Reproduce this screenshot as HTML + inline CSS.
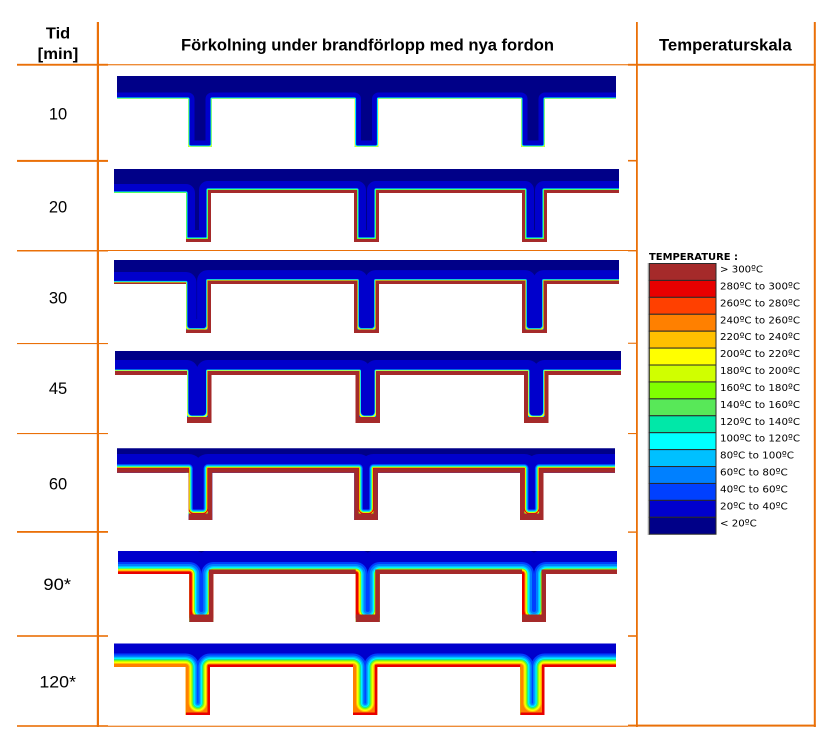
<!DOCTYPE html>
<html><head><meta charset="utf-8">
<style>
html,body{margin:0;padding:0;background:#fff;width:840px;height:752px;overflow:hidden}
svg{display:block}
text{font-family:"Liberation Sans",Arial,sans-serif;fill:#000}
.lg{font-family:"DejaVu Sans","Liberation Sans",sans-serif;font-size:10px}
</style></head>
<body>
<svg width="840" height="752" viewBox="0 0 840 752" xmlns="http://www.w3.org/2000/svg">
<defs>
<clipPath id="c1"><path d="M117,76H616V99H545V147H521V99H378.5V147H354.5V99H212V147H188V99H117Z"/></clipPath>
<clipPath id="c2"><path d="M114,169H619V193H547V242H522V193H379V242H354V193H211V242H186V193H114Z"/></clipPath>
<clipPath id="c3"><path d="M114,260H619V284H547V333H522V284H379V333H354V284H211V333H186V284H114Z"/></clipPath>
<clipPath id="c4"><path d="M115,351H621V375H548.5V423H524V375H380V423H355.5V375H211.5V423H187V375H115Z"/></clipPath>
<clipPath id="c5"><path d="M117,448.3H615V472.7H543.5V520H520V472.7H377.8V520H354.3V472.7H212.2V520H188.7V472.7H117Z"/></clipPath>
<clipPath id="c6"><path d="M118,551H617V574H546V622H522V574H379.7V622H355.7V574H213.3V622H189.3V574H118Z"/></clipPath>
<clipPath id="c7"><path d="M114,643.5H616V667H544.5V715H520.3V667H377.3V715H353V667H210V715H185.7V667H114Z"/></clipPath>
</defs>

<!-- Orange grid -->
<g fill="#ea7008">
<rect x="96.8" y="22" width="2.2" height="705"/>
<rect x="636" y="22" width="1.8" height="705"/>
<rect x="813.8" y="22" width="2" height="705"/>
<rect x="17" y="63.8" width="91" height="1.9"/>
<rect x="108" y="64.2" width="520" height="1.1"/>
<rect x="628" y="63.8" width="187.8" height="1.9"/>
<rect x="17" y="159.9" width="91" height="2"/>
<rect x="628" y="159.9" width="9" height="1.6"/>
<rect x="17" y="250" width="91" height="1.5"/>
<rect x="108" y="250" width="520" height="1"/>
<rect x="628" y="250" width="9" height="1.4"/>
<rect x="17" y="343" width="91" height="1.1"/>
<rect x="628" y="342.7" width="9" height="1.1"/>
<rect x="17" y="433" width="91" height="1.1"/>
<rect x="628" y="433" width="9" height="1.1"/>
<rect x="17" y="531" width="91" height="1.8"/>
<rect x="628" y="531.4" width="9" height="1.4"/>
<rect x="17" y="635.2" width="91" height="1.6"/>
<rect x="628" y="635.2" width="9" height="1.6"/>
<rect x="17" y="725.2" width="91" height="1.6"/>
<rect x="108" y="725.7" width="520" height="1.1"/>
<rect x="628" y="724.6" width="187.8" height="2"/>
</g>

<!-- Header text -->
<text x="58" y="38.3" text-anchor="middle" font-weight="bold" font-size="16" textLength="24.3" lengthAdjust="spacingAndGlyphs">Tid</text>
<text x="58" y="59" text-anchor="middle" font-weight="bold" font-size="16" textLength="40.6" lengthAdjust="spacingAndGlyphs">[min]</text>
<text x="367.5" y="50.5" text-anchor="middle" font-weight="bold" font-size="17" textLength="373" lengthAdjust="spacingAndGlyphs">Förkolning under brandförlopp med nya fordon</text>
<text x="725.3" y="50.5" text-anchor="middle" font-weight="bold" font-size="17" textLength="132.7" lengthAdjust="spacingAndGlyphs">Temperaturskala</text>

<!-- Row labels -->
<g font-size="16.5" text-anchor="middle">
<text x="58" y="119.3">10</text>
<text x="58" y="212.3">20</text>
<text x="58" y="303.3">30</text>
<text x="58" y="394">45</text>
<text x="58" y="489.3">60</text>
<text x="57.2" y="590" textLength="27.6" lengthAdjust="spacingAndGlyphs">90*</text>
<text x="57.7" y="687.6" textLength="36.6" lengthAdjust="spacingAndGlyphs">120*</text>
</g>

<!-- Row 1 : 10 min -->
<g clip-path="url(#c1)">
<rect x="100" y="70" width="540" height="85" fill="#000088"/>
<g fill="none" stroke-linejoin="round">
<path d="M87,99H188V144A3,3 0 0 0 191,147H209A3,3 0 0 0 212,144V99H354.5V144A3,3 0 0 0 357.5,147H375.5A3,3 0 0 0 378.5,144V99H521V144A3,3 0 0 0 524,147H542A3,3 0 0 0 545,144V99H646" stroke="#0000cc" stroke-width="13"/>
<path d="M87,99H188V144A3,3 0 0 0 191,147H209A3,3 0 0 0 212,144V99H354.5V144A3,3 0 0 0 357.5,147H375.5A3,3 0 0 0 378.5,144V99H521V144A3,3 0 0 0 524,147H542A3,3 0 0 0 545,144V99H646" stroke="#00c0ff" stroke-width="3.2"/>
<path d="M87,99H188V144A3,3 0 0 0 191,147H209A3,3 0 0 0 212,144V99H354.5V144A3,3 0 0 0 357.5,147H375.5A3,3 0 0 0 378.5,144V99H521V144A3,3 0 0 0 524,147H542A3,3 0 0 0 545,144V99H646" stroke="#00ffff" stroke-width="2.2"/>
<path d="M87,99H188V144A3,3 0 0 0 191,147H209A3,3 0 0 0 212,144V99H354.5V144A3,3 0 0 0 357.5,147H375.5A3,3 0 0 0 378.5,144V99H521V144A3,3 0 0 0 524,147H542A3,3 0 0 0 545,144V99H646" stroke="#ffff00" stroke-width="1"/>
</g></g>

<!-- Row 2 : 20 min -->
<g clip-path="url(#c2)">
<rect x="100" y="165" width="540" height="82" fill="#000088"/>
<g fill="none" stroke-linejoin="round">
<path d="M84,193H186V237A2,2 0 0 0 188,239H206A2,2 0 0 0 208,237V190H357V237A2,2 0 0 0 359,239H374A2,2 0 0 0 376,237V190H525V237A2,2 0 0 0 527,239H542A2,2 0 0 0 544,237V190H649" stroke="#0000cc" stroke-width="18"/>
<path d="M84,193H186V237A2,2 0 0 0 188,239H206A2,2 0 0 0 208,237V190H357V237A2,2 0 0 0 359,239H374A2,2 0 0 0 376,237V190H525V237A2,2 0 0 0 527,239H542A2,2 0 0 0 544,237V190H649" stroke="#00c0ff" stroke-width="3.2"/>
<path d="M84,193H186V237A2,2 0 0 0 188,239H206A2,2 0 0 0 208,237V190H357V237A2,2 0 0 0 359,239H374A2,2 0 0 0 376,237V190H525V237A2,2 0 0 0 527,239H542A2,2 0 0 0 544,237V190H649" stroke="#00ffff" stroke-width="2.4"/>
<path d="M84,193H186V237A2,2 0 0 0 188,239H206A2,2 0 0 0 208,237V190H357V237A2,2 0 0 0 359,239H374A2,2 0 0 0 376,237V190H525V237A2,2 0 0 0 527,239H542A2,2 0 0 0 544,237V190H649" stroke="#80ff00" stroke-width="1.2"/>
</g>
<path d="M186,242H211V193H354V242H379V193H522V242H547V193H649" fill="none" stroke="#a52a2a" stroke-width="6" stroke-linejoin="miter"/>
</g>

<!-- Row 3 : 30 min -->
<g clip-path="url(#c3)">
<rect x="100" y="255" width="540" height="82" fill="#000088"/>
<g fill="none" stroke-linejoin="round">
<path d="M84,282.5H186V325.6A4,4 0 0 0 190,329.6H203.6A4,4 0 0 0 207.6,325.6V280.6H357.4V325.6A4,4 0 0 0 361.4,329.6H371.6A4,4 0 0 0 375.6,325.6V280.6H525.4V325.6A4,4 0 0 0 529.4,329.6H539.6A4,4 0 0 0 543.6,325.6V280.6H649" stroke="#0000cc" stroke-width="21"/>
<path d="M84,282.5H186V325.6A4,4 0 0 0 190,329.6H203.6A4,4 0 0 0 207.6,325.6V280.6H357.4V325.6A4,4 0 0 0 361.4,329.6H371.6A4,4 0 0 0 375.6,325.6V280.6H525.4V325.6A4,4 0 0 0 529.4,329.6H539.6A4,4 0 0 0 543.6,325.6V280.6H649" stroke="#0080ff" stroke-width="3.2"/>
<path d="M84,282.5H186V325.6A4,4 0 0 0 190,329.6H203.6A4,4 0 0 0 207.6,325.6V280.6H357.4V325.6A4,4 0 0 0 361.4,329.6H371.6A4,4 0 0 0 375.6,325.6V280.6H525.4V325.6A4,4 0 0 0 529.4,329.6H539.6A4,4 0 0 0 543.6,325.6V280.6H649" stroke="#00ffff" stroke-width="2.4"/>
<path d="M84,282.5H186V325.6A4,4 0 0 0 190,329.6H203.6A4,4 0 0 0 207.6,325.6V280.6H357.4V325.6A4,4 0 0 0 361.4,329.6H371.6A4,4 0 0 0 375.6,325.6V280.6H525.4V325.6A4,4 0 0 0 529.4,329.6H539.6A4,4 0 0 0 543.6,325.6V280.6H649" stroke="#58e858" stroke-width="1.6"/>
<path d="M84,282.5H186V325.6A4,4 0 0 0 190,329.6H203.6A4,4 0 0 0 207.6,325.6V280.6H357.4V325.6A4,4 0 0 0 361.4,329.6H371.6A4,4 0 0 0 375.6,325.6V280.6H525.4V325.6A4,4 0 0 0 529.4,329.6H539.6A4,4 0 0 0 543.6,325.6V280.6H649" stroke="#ffff00" stroke-width="0.8"/>
</g>
<path d="M186,333H211V284H354V333H379V284H522V333H547V284H649" fill="none" stroke="#a52a2a" stroke-width="6.8" stroke-linejoin="miter"/>
<path d="M84,284H186" fill="none" stroke="#a52a2a" stroke-width="3"/>
</g>

<!-- Row 4 : 45 min -->
<g clip-path="url(#c4)">
<rect x="100" y="345" width="540" height="82" fill="#000088"/>
<g fill="none" stroke-linejoin="round">
<path d="M85,371H187V412A5,5 0 0 0 192,417H202.5A5,5 0 0 0 207.5,412V371H359.5V412A5,5 0 0 0 364.5,417H371A5,5 0 0 0 376,412V371H528V412A5,5 0 0 0 533,417H539.5A5,5 0 0 0 544.5,412V371H651" stroke="#0000cc" stroke-width="22"/>
<path d="M85,371H187V412A5,5 0 0 0 192,417H202.5A5,5 0 0 0 207.5,412V371H359.5V412A5,5 0 0 0 364.5,417H371A5,5 0 0 0 376,412V371H528V412A5,5 0 0 0 533,417H539.5A5,5 0 0 0 544.5,412V371H651" stroke="#00c0ff" stroke-width="3"/>
<path d="M85,371H187V412A5,5 0 0 0 192,417H202.5A5,5 0 0 0 207.5,412V371H359.5V412A5,5 0 0 0 364.5,417H371A5,5 0 0 0 376,412V371H528V412A5,5 0 0 0 533,417H539.5A5,5 0 0 0 544.5,412V371H651" stroke="#00ffff" stroke-width="2.2"/>
<path d="M85,371H187V412A5,5 0 0 0 192,417H202.5A5,5 0 0 0 207.5,412V371H359.5V412A5,5 0 0 0 364.5,417H371A5,5 0 0 0 376,412V371H528V412A5,5 0 0 0 533,417H539.5A5,5 0 0 0 544.5,412V371H651" stroke="#ffff00" stroke-width="1.2"/>
</g>
<path d="M85,375H187M187,423H211.5V375H355.5V423H380V375H524V423H548.5V375H651" fill="none" stroke="#a52a2a" stroke-width="8" stroke-linejoin="miter"/>
<g fill="#a52a2a">
<rect x="187" y="417" width="24.5" height="6"/>
<rect x="355.5" y="417" width="24.5" height="6"/>
<rect x="524" y="417" width="24.5" height="6"/>
</g>
</g>

<!-- Row 5 : 60 min -->
<g clip-path="url(#c5)">
<rect x="100" y="444" width="540" height="80" fill="#000088"/>
<g fill="none" stroke-linejoin="round">
<path d="M87,468.3H188.7V508.5A5,5 0 0 0 193.7,513.5H202.8A5,5 0 0 0 207.8,508.5V468.3H358.7V508.5A5,5 0 0 0 363.7,513.5H368.4A5,5 0 0 0 373.4,508.5V468.3H524.4V508.5A5,5 0 0 0 529.4,513.5H534.1A5,5 0 0 0 539.1,508.5V468.3H645" stroke="#0000cc" stroke-width="28.6"/>
<path d="M87,468.3H188.7V508.5A5,5 0 0 0 193.7,513.5H202.8A5,5 0 0 0 207.8,508.5V468.3H358.7V508.5A5,5 0 0 0 363.7,513.5H368.4A5,5 0 0 0 373.4,508.5V468.3H524.4V508.5A5,5 0 0 0 529.4,513.5H534.1A5,5 0 0 0 539.1,508.5V468.3H645" stroke="#0040ff" stroke-width="8.4"/>
<path d="M87,468.3H188.7V508.5A5,5 0 0 0 193.7,513.5H202.8A5,5 0 0 0 207.8,508.5V468.3H358.7V508.5A5,5 0 0 0 363.7,513.5H368.4A5,5 0 0 0 373.4,508.5V468.3H524.4V508.5A5,5 0 0 0 529.4,513.5H534.1A5,5 0 0 0 539.1,508.5V468.3H645" stroke="#0080ff" stroke-width="7"/>
<path d="M87,468.3H188.7V508.5A5,5 0 0 0 193.7,513.5H202.8A5,5 0 0 0 207.8,508.5V468.3H358.7V508.5A5,5 0 0 0 363.7,513.5H368.4A5,5 0 0 0 373.4,508.5V468.3H524.4V508.5A5,5 0 0 0 529.4,513.5H534.1A5,5 0 0 0 539.1,508.5V468.3H645" stroke="#00c0ff" stroke-width="5.8"/>
<path d="M87,468.3H188.7V508.5A5,5 0 0 0 193.7,513.5H202.8A5,5 0 0 0 207.8,508.5V468.3H358.7V508.5A5,5 0 0 0 363.7,513.5H368.4A5,5 0 0 0 373.4,508.5V468.3H524.4V508.5A5,5 0 0 0 529.4,513.5H534.1A5,5 0 0 0 539.1,508.5V468.3H645" stroke="#00ffff" stroke-width="4.6"/>
<path d="M87,468.3H188.7V508.5A5,5 0 0 0 193.7,513.5H202.8A5,5 0 0 0 207.8,508.5V468.3H358.7V508.5A5,5 0 0 0 363.7,513.5H368.4A5,5 0 0 0 373.4,508.5V468.3H524.4V508.5A5,5 0 0 0 529.4,513.5H534.1A5,5 0 0 0 539.1,508.5V468.3H645" stroke="#80ff00" stroke-width="3.4"/>
<path d="M87,468.3H188.7V508.5A5,5 0 0 0 193.7,513.5H202.8A5,5 0 0 0 207.8,508.5V468.3H358.7V508.5A5,5 0 0 0 363.7,513.5H368.4A5,5 0 0 0 373.4,508.5V468.3H524.4V508.5A5,5 0 0 0 529.4,513.5H534.1A5,5 0 0 0 539.1,508.5V468.3H645" stroke="#ffff00" stroke-width="2.2"/>
<path d="M87,468.3H188.7V508.5A5,5 0 0 0 193.7,513.5H202.8A5,5 0 0 0 207.8,508.5V468.3H358.7V508.5A5,5 0 0 0 363.7,513.5H368.4A5,5 0 0 0 373.4,508.5V468.3H524.4V508.5A5,5 0 0 0 529.4,513.5H534.1A5,5 0 0 0 539.1,508.5V468.3H645" stroke="#e80000" stroke-width="1"/>
</g>
<path d="M87,472.7H188.7M188.7,520H212.2V472.7H354.3V520H377.8V472.7H520V520H543.5V472.7H645" fill="none" stroke="#a52a2a" stroke-width="8.8" stroke-linejoin="miter"/>
<g fill="#a52a2a">
<rect x="188.7" y="513.5" width="23.5" height="6.5"/>
<rect x="354.3" y="513.5" width="23.5" height="6.5"/>
<rect x="520" y="513.5" width="23.5" height="6.5"/>
</g>
</g>

<!-- Row 6 : 90* min -->
<g clip-path="url(#c6)">
<rect x="100" y="546" width="540" height="80" fill="#000088"/>
<g fill="none" stroke-linejoin="round">
<path d="M88,574H189.3V610A12,12 0 0 0 201.3,622A12,12 0 0 0 213.3,610V574H355.7V610A12,12 0 0 0 367.7,622A12,12 0 0 0 379.7,610V574H522V610A12,12 0 0 0 534,622A12,12 0 0 0 546,610V574H647" stroke="#0000cc" stroke-width="49"/>
<path d="M88,574H189.3V610A12,12 0 0 0 201.3,622A12,12 0 0 0 213.3,610V574H355.7V610A12,12 0 0 0 367.7,622A12,12 0 0 0 379.7,610V574H522V610A12,12 0 0 0 534,622A12,12 0 0 0 546,610V574H647" stroke="#0040ff" stroke-width="24"/>
<path d="M88,574H189.3V610A12,12 0 0 0 201.3,622A12,12 0 0 0 213.3,610V574H355.7V610A12,12 0 0 0 367.7,622A12,12 0 0 0 379.7,610V574H522V610A12,12 0 0 0 534,622A12,12 0 0 0 546,610V574H647" stroke="#0080ff" stroke-width="20"/>
<path d="M88,574H189.3V610A12,12 0 0 0 201.3,622A12,12 0 0 0 213.3,610V574H355.7V610A12,12 0 0 0 367.7,622A12,12 0 0 0 379.7,610V574H522V610A12,12 0 0 0 534,622A12,12 0 0 0 546,610V574H647" stroke="#00c0ff" stroke-width="16"/>
<path d="M88,574H189.3V610A12,12 0 0 0 201.3,622A12,12 0 0 0 213.3,610V574H355.7V610A12,12 0 0 0 367.7,622A12,12 0 0 0 379.7,610V574H522V610A12,12 0 0 0 534,622A12,12 0 0 0 546,610V574H647" stroke="#00ffff" stroke-width="13.4"/>
<path d="M88,574H189.3V610A12,12 0 0 0 201.3,622A12,12 0 0 0 213.3,610V574H355.7V610A12,12 0 0 0 367.7,622A12,12 0 0 0 379.7,610V574H522V610A12,12 0 0 0 534,622A12,12 0 0 0 546,610V574H647" stroke="#80ff00" stroke-width="11"/>
<path d="M88,574H189.3V610A12,12 0 0 0 201.3,622A12,12 0 0 0 213.3,610V574H355.7V610A12,12 0 0 0 367.7,622A12,12 0 0 0 379.7,610V574H522V610A12,12 0 0 0 534,622A12,12 0 0 0 546,610V574H647" stroke="#ffff00" stroke-width="9.2"/>
<path d="M88,574H189.3V610A12,12 0 0 0 201.3,622A12,12 0 0 0 213.3,610V574H355.7V610A12,12 0 0 0 367.7,622A12,12 0 0 0 379.7,610V574H522V610A12,12 0 0 0 534,622A12,12 0 0 0 546,610V574H647" stroke="#ff8000" stroke-width="7"/>
<path d="M88,574H189.3V610A12,12 0 0 0 201.3,622A12,12 0 0 0 213.3,610V574H355.7V610A12,12 0 0 0 367.7,622A12,12 0 0 0 379.7,610V574H522V610A12,12 0 0 0 534,622A12,12 0 0 0 546,610V574H647" stroke="#e80000" stroke-width="5"/>
</g>
<path d="M213.3,622V574H355.7M379.7,622V574H522M546,622V574H647" fill="none" stroke="#a52a2a" stroke-width="9" stroke-linejoin="miter"/>
<g fill="#a52a2a">
<rect x="189.3" y="614.5" width="24" height="7.5"/>
<rect x="355.7" y="614.5" width="24" height="7.5"/>
<rect x="522" y="614.5" width="24" height="7.5"/>
</g>
</g>

<!-- Row 7 : 120* min -->
<g clip-path="url(#c7)">
<rect x="100" y="638" width="540" height="80" fill="#0000cc"/>
<g fill="none" stroke-linejoin="round">
<path d="M84,667H185.7V702.85A12.15,12.15 0 0 0 197.85,715A12.15,12.15 0 0 0 210,702.85V667H353V702.85A12.15,12.15 0 0 0 365.15,715A12.15,12.15 0 0 0 377.3,702.85V667H520.3V702.9A12.1,12.1 0 0 0 532.4,715A12.1,12.1 0 0 0 544.5,702.9V667H646" stroke="#0040ff" stroke-width="27"/>
<path d="M84,667H185.7V702.85A12.15,12.15 0 0 0 197.85,715A12.15,12.15 0 0 0 210,702.85V667H353V702.85A12.15,12.15 0 0 0 365.15,715A12.15,12.15 0 0 0 377.3,702.85V667H520.3V702.9A12.1,12.1 0 0 0 532.4,715A12.1,12.1 0 0 0 544.5,702.9V667H646" stroke="#0080ff" stroke-width="23"/>
<path d="M84,667H185.7V702.85A12.15,12.15 0 0 0 197.85,715A12.15,12.15 0 0 0 210,702.85V667H353V702.85A12.15,12.15 0 0 0 365.15,715A12.15,12.15 0 0 0 377.3,702.85V667H520.3V702.9A12.1,12.1 0 0 0 532.4,715A12.1,12.1 0 0 0 544.5,702.9V667H646" stroke="#00c0ff" stroke-width="20"/>
<path d="M84,667H185.7V702.85A12.15,12.15 0 0 0 197.85,715A12.15,12.15 0 0 0 210,702.85V667H353V702.85A12.15,12.15 0 0 0 365.15,715A12.15,12.15 0 0 0 377.3,702.85V667H520.3V702.9A12.1,12.1 0 0 0 532.4,715A12.1,12.1 0 0 0 544.5,702.9V667H646" stroke="#00ffff" stroke-width="17.6"/>
<path d="M84,667H185.7V702.85A12.15,12.15 0 0 0 197.85,715A12.15,12.15 0 0 0 210,702.85V667H353V702.85A12.15,12.15 0 0 0 365.15,715A12.15,12.15 0 0 0 377.3,702.85V667H520.3V702.9A12.1,12.1 0 0 0 532.4,715A12.1,12.1 0 0 0 544.5,702.9V667H646" stroke="#00e8a8" stroke-width="16"/>
<path d="M84,667H185.7V702.85A12.15,12.15 0 0 0 197.85,715A12.15,12.15 0 0 0 210,702.85V667H353V702.85A12.15,12.15 0 0 0 365.15,715A12.15,12.15 0 0 0 377.3,702.85V667H520.3V702.9A12.1,12.1 0 0 0 532.4,715A12.1,12.1 0 0 0 544.5,702.9V667H646" stroke="#58e858" stroke-width="14.6"/>
<path d="M84,667H185.7V702.85A12.15,12.15 0 0 0 197.85,715A12.15,12.15 0 0 0 210,702.85V667H353V702.85A12.15,12.15 0 0 0 365.15,715A12.15,12.15 0 0 0 377.3,702.85V667H520.3V702.9A12.1,12.1 0 0 0 532.4,715A12.1,12.1 0 0 0 544.5,702.9V667H646" stroke="#80ff00" stroke-width="13.2"/>
<path d="M84,667H185.7V702.85A12.15,12.15 0 0 0 197.85,715A12.15,12.15 0 0 0 210,702.85V667H353V702.85A12.15,12.15 0 0 0 365.15,715A12.15,12.15 0 0 0 377.3,702.85V667H520.3V702.9A12.1,12.1 0 0 0 532.4,715A12.1,12.1 0 0 0 544.5,702.9V667H646" stroke="#d0ff00" stroke-width="11.8"/>
<path d="M84,667H185.7V702.85A12.15,12.15 0 0 0 197.85,715A12.15,12.15 0 0 0 210,702.85V667H353V702.85A12.15,12.15 0 0 0 365.15,715A12.15,12.15 0 0 0 377.3,702.85V667H520.3V702.9A12.1,12.1 0 0 0 532.4,715A12.1,12.1 0 0 0 544.5,702.9V667H646" stroke="#ffff00" stroke-width="10"/>
<path d="M84,667H185.7V702.85A12.15,12.15 0 0 0 197.85,715A12.15,12.15 0 0 0 210,702.85V667H353V702.85A12.15,12.15 0 0 0 365.15,715A12.15,12.15 0 0 0 377.3,702.85V667H520.3V702.9A12.1,12.1 0 0 0 532.4,715A12.1,12.1 0 0 0 544.5,702.9V667H646" stroke="#ffc000" stroke-width="8"/>
<path d="M84,667H185.7V702.85A12.15,12.15 0 0 0 197.85,715A12.15,12.15 0 0 0 210,702.85V667H353V702.85A12.15,12.15 0 0 0 365.15,715A12.15,12.15 0 0 0 377.3,702.85V667H520.3V702.9A12.1,12.1 0 0 0 532.4,715A12.1,12.1 0 0 0 544.5,702.9V667H646" stroke="#ff8000" stroke-width="6"/>
</g>
<path d="M185.7,715H210V667H353M353,715H377.3V667H520.3M520.3,715H544.5V667H646" fill="none" stroke="#e80000" stroke-width="5" stroke-linejoin="miter"/>
</g>

<!-- Legend -->
<text x="649" y="260" class="lg" font-weight="bold" font-size="9.5" textLength="89" lengthAdjust="spacingAndGlyphs">TEMPERATURE :</text>
<rect x="647.6" y="263" width="2" height="272" fill="#bdbdbd"/>
<g stroke="#2a2a2a" stroke-width="1">
<rect x="649.3" y="263.5" width="66.7" height="16.92" fill="#a52a2a"/>
<rect x="649.3" y="280.42" width="66.7" height="16.92" fill="#e80000"/>
<rect x="649.3" y="297.34" width="66.7" height="16.92" fill="#ff4000"/>
<rect x="649.3" y="314.26" width="66.7" height="16.92" fill="#ff8000"/>
<rect x="649.3" y="331.18" width="66.7" height="16.92" fill="#ffc000"/>
<rect x="649.3" y="348.1" width="66.7" height="16.92" fill="#ffff00"/>
<rect x="649.3" y="365.02" width="66.7" height="16.92" fill="#d0ff00"/>
<rect x="649.3" y="381.94" width="66.7" height="16.92" fill="#80ff00"/>
<rect x="649.3" y="398.86" width="66.7" height="16.92" fill="#58e858"/>
<rect x="649.3" y="415.78" width="66.7" height="16.92" fill="#00e8a8"/>
<rect x="649.3" y="432.7" width="66.7" height="16.92" fill="#00ffff"/>
<rect x="649.3" y="449.62" width="66.7" height="16.92" fill="#00c0ff"/>
<rect x="649.3" y="466.54" width="66.7" height="16.92" fill="#0080ff"/>
<rect x="649.3" y="483.46" width="66.7" height="16.92" fill="#0040ff"/>
<rect x="649.3" y="500.38" width="66.7" height="16.92" fill="#0000cc"/>
<rect x="649.3" y="517.3" width="66.7" height="16.92" fill="#000088"/>
</g>
<g class="lg">
<text x="720" y="272.5" class="lg" textLength="43" lengthAdjust="spacingAndGlyphs">&gt; 300ºC</text>
<text x="720" y="289.4" class="lg" textLength="80" lengthAdjust="spacingAndGlyphs">280ºC to 300ºC</text>
<text x="720" y="306.3" class="lg" textLength="80" lengthAdjust="spacingAndGlyphs">260ºC to 280ºC</text>
<text x="720" y="323.3" class="lg" textLength="80" lengthAdjust="spacingAndGlyphs">240ºC to 260ºC</text>
<text x="720" y="340.2" class="lg" textLength="80" lengthAdjust="spacingAndGlyphs">220ºC to 240ºC</text>
<text x="720" y="357.1" class="lg" textLength="80" lengthAdjust="spacingAndGlyphs">200ºC to 220ºC</text>
<text x="720" y="374" class="lg" textLength="80" lengthAdjust="spacingAndGlyphs">180ºC to 200ºC</text>
<text x="720" y="390.9" class="lg" textLength="80" lengthAdjust="spacingAndGlyphs">160ºC to 180ºC</text>
<text x="720" y="407.9" class="lg" textLength="80" lengthAdjust="spacingAndGlyphs">140ºC to 160ºC</text>
<text x="720" y="424.8" class="lg" textLength="80" lengthAdjust="spacingAndGlyphs">120ºC to 140ºC</text>
<text x="720" y="441.7" class="lg" textLength="80" lengthAdjust="spacingAndGlyphs">100ºC to 120ºC</text>
<text x="720" y="458.6" class="lg" textLength="74" lengthAdjust="spacingAndGlyphs">80ºC to 100ºC</text>
<text x="720" y="475.5" class="lg" textLength="67.7" lengthAdjust="spacingAndGlyphs">60ºC to 80ºC</text>
<text x="720" y="492.5" class="lg" textLength="67.7" lengthAdjust="spacingAndGlyphs">40ºC to 60ºC</text>
<text x="720" y="509.4" class="lg" textLength="67.7" lengthAdjust="spacingAndGlyphs">20ºC to 40ºC</text>
<text x="720" y="526.3" class="lg" textLength="36.7" lengthAdjust="spacingAndGlyphs">&lt; 20ºC</text>
</g>
</svg>
</body></html>
